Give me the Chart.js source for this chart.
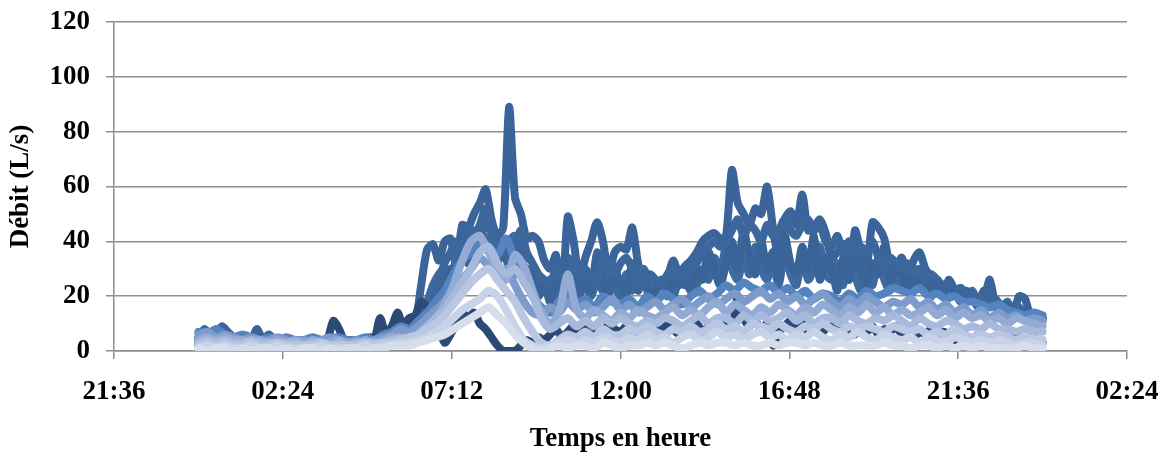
<!DOCTYPE html>
<html lang="fr">
<head>
<meta charset="utf-8">
<title>Débit</title>
<script src="https://cdn.jsdelivr.net/npm/chart.js@4.4.1/dist/chart.umd.min.js"></script>
<style>
  html, body { margin: 0; padding: 0; background: #fff; }
  #wrap { width: 1163px; height: 452px; }
</style>
</head>
<body>
<div id="wrap"><canvas id="debit" width="1163" height="452"></canvas></div>
<script>
// Axe des temps : heures depuis minuit
const X_TICKS = [-2.4, 2.4, 7.2, 12, 16.8, 21.6, 26.4];
const X_LABELS = ["21:36", "02:24", "07:12", "12:00", "16:48", "21:36", "02:24"];
const Y_TICKS = [0, 20, 40, 60, 80, 100, 120];

// series au pas de 10 min (00:00 -> 24:00)
const DARK_MAIN = [
  5, 8, 6, 6, 9, 7,
  5, 4, 4, 4, 8, 4,
  6, 4, 3, 3, 4, 3,
  3, 3, 3, 4, 4, 5,
  4, 3, 4, 3, 4, 5,
  5, 7, 6, 9, 12, 10,
  12, 11, 24, 37, 39, 33,
  40, 41, 31, 46, 45, 50,
  54, 59, 48, 42, 45, 89,
  56, 50, 41, 42, 40, 33,
  30, 35, 18, 49, 40, 26,
  34, 40, 47, 40, 28, 36,
  38, 37, 45, 32, 26, 27,
  23, 25, 27, 33, 28, 31,
  33, 36, 40, 42, 43, 41,
  42, 66, 54, 50, 46, 52,
  50, 60, 45, 34, 48, 51,
  46, 57, 44, 45, 48, 43,
  34, 36, 39, 26, 44, 36,
  31, 47, 45, 41, 31, 31,
  34, 26, 33, 36, 30, 27,
  24, 22, 23, 21, 20, 19,
  19, 16, 19, 26, 16, 14,
  15, 14, 20, 19, 12, 11,
  12
];
const DARK_SECOND = [
  4, 6, 5, 4, 6, 5,
  4, 3, 4, 3, 4, 3,
  3, 4, 3, 3, 4, 3,
  3, 3, 4, 3, 3, 4,
  3, 4, 3, 3, 4, 3,
  4, 5, 4, 6, 7, 6,
  8, 10, 14, 18, 24, 28,
  30, 26, 34, 38, 36, 44,
  40, 50, 42, 38, 34, 40,
  42, 32, 30, 28, 24, 22,
  26, 20, 24, 30, 22, 28,
  24, 20, 26, 22, 32, 24,
  20, 28, 22, 26, 30, 24,
  22, 26, 24, 20, 26, 24,
  28, 24, 30, 26, 34, 28,
  38, 30, 26, 34, 28, 38,
  30, 26, 32, 24, 36, 28,
  24, 34, 26, 30, 38, 28,
  26, 32, 24, 36, 28, 22,
  30, 24, 34, 26, 22, 28,
  24, 30, 22, 28, 24, 20,
  26, 22, 24, 20, 23, 19,
  22, 18, 20, 17, 19, 16,
  18, 14, 16, 12, 14, 12,
  11
];
const DARK_THIRD = [
  3, 4, 3, 4, 3, 4,
  3, 3, 4, 3, 3, 4,
  3, 3, 4, 3, 3, 3,
  4, 3, 3, 4, 3, 3,
  3, 4, 3, 4, 3, 3,
  4, 3, 4, 5, 4, 5,
  5, 6, 8, 12, 18, 22,
  26, 30, 28, 36, 32, 38,
  44, 40, 36, 32, 38, 30,
  28, 36, 26, 30, 20, 24,
  18, 28, 22, 34, 26, 20,
  28, 22, 36, 26, 20, 30,
  24, 20, 32, 22, 28, 18,
  22, 26, 20, 28, 24, 26,
  22, 30, 26, 36, 30, 24,
  32, 40, 30, 44, 34, 28,
  40, 30, 36, 26, 42, 32,
  28, 38, 30, 42, 26, 34,
  30, 22, 34, 26, 40, 30,
  24, 32, 28, 38, 26, 30,
  28, 22, 30, 24, 28, 20,
  24, 20, 26, 22, 18, 22,
  20, 17, 22, 16, 18, 15,
  17, 13, 15, 14, 12, 13,
  12
];
const DARK_FOURTH = [
  3, 4, 3, 3, 4, 3,
  4, 3, 3, 4, 3, 3,
  3, 3, 4, 3, 3, 4,
  3, 4, 3, 3, 3, 4,
  3, 3, 4, 3, 4, 3,
  3, 4, 4, 5, 5, 6,
  6, 8, 10, 14, 20, 26,
  32, 36, 40, 38, 44, 42,
  46, 52, 44, 40, 36, 34,
  38, 44, 36, 32, 28, 26,
  24, 30, 26, 22, 32, 28,
  30, 26, 24, 34, 30, 28,
  32, 34, 30, 26, 24, 28,
  26, 24, 28, 30, 26, 28,
  30, 32, 36, 38, 40, 38,
  40, 44, 48, 42, 46, 44,
  40, 46, 42, 44, 48, 44,
  42, 46, 48, 44, 46, 40,
  38, 42, 36, 40, 34, 38,
  36, 40, 34, 30, 34, 32,
  30, 32, 28, 30, 26, 28,
  26, 24, 25, 22, 23, 21,
  20, 18, 21, 17, 18, 16,
  16, 15, 14, 13, 14, 13,
  12
];
const NAVY = [
  2, 3, 2, 3, 2, 3,
  2, 2, 3, 2, 2, 3,
  2, 3, 2, 2, 3, 2,
  2, 3, 2, 3, 4, 11,
  8, 3, 2, 3, 2, 3,
  4, 12, 6, 9, 14, 8,
  12, 13, 18, 16, 14, 8,
  3, 6, 10, 14, 12, 14,
  10, 8, 5, 2, 0, 0,
  0, 2, 4, 3, 5, 4,
  6, 8, 5, 7, 9, 6,
  8, 6, 9, 7, 10, 8,
  7, 9, 6, 8, 10, 7,
  9, 7, 10, 8, 6, 9,
  8, 10, 7, 9, 11, 8,
  10, 8, 20, 12, 9, 11,
  8, 10, 2, 7, 9, 11,
  8, 10, 7, 9, 6, 8,
  9, 7, 10, 8, 6, 9,
  7, 9, 6, 8, 7, 9,
  6, 8, 5, 7, 6, 8,
  5, 7, 6, 4, 6, 5,
  4, 6, 5, 3, 5, 4,
  3, 5, 4, 3, 4, 3,
  3
];

// series au pas de 15 min (00:00 -> 24:00)
const MID_BLUE = [
  7, 6, 8, 6,  5, 6, 5, 4,  5, 4, 5, 4,  4, 5, 4, 4,
  5, 4, 4, 5,  4, 6, 7, 9,  8, 11, 14, 18,  22, 28, 33, 36,
  40, 38, 35, 41,  33, 27, 20, 16,  14, 18, 20, 17,  19, 16, 20, 18,
  17, 19, 16, 20,  18, 21, 19, 17,  20, 22, 19, 21,  24, 22, 25, 23,
  22, 24, 21, 23,  20, 22, 19, 21,  20, 18, 21, 19,  22, 20, 21, 23,
  22, 21, 23, 20,  21, 19, 20, 18,  18, 17, 16, 17,  15, 14, 13, 14,
  13
];
const LIGHT_1 = [
  6, 7, 5, 6,  5, 4, 5, 4,  4, 5, 4, 3,  4, 3, 4, 5,
  4, 3, 4, 3,  4, 5, 6, 8,  7, 9, 12, 15,  18, 22, 26, 30,
  34, 31, 28, 30,  24, 18, 14, 13,  16, 14, 18, 15,  17, 14, 16, 19,
  15, 17, 14, 16,  18, 15, 17, 19,  16, 18, 20, 17,  19, 21, 18, 20,
  22, 19, 21, 18,  20, 17, 19, 21,  18, 16, 19, 17,  20, 18, 16, 18,
  17, 19, 16, 18,  15, 17, 14, 16,  13, 15, 12, 14,  12, 13, 11, 12,
  11
];
const LIGHT_2 = [
  4, 5, 4, 5,  4, 4, 3, 4,  3, 4, 3, 4,  3, 4, 3, 3,
  4, 3, 3, 4,  3, 4, 5, 4,  5, 6, 8, 12,  17, 24, 33, 40,
  42, 36, 30, 26,  35, 31, 22, 14,  10, 14, 28, 15,  12, 15, 13, 11,
  14, 12, 15, 13,  12, 14, 16, 13,  15, 13, 16, 18,  14, 17, 15, 13,
  16, 14, 17, 15,  13, 16, 14, 17,  15, 13, 16, 14,  17, 14, 16, 13,
  15, 13, 14, 16,  13, 15, 12, 14,  12, 13, 11, 12,  10, 12, 11, 10,
  9
];
const LIGHT_3 = [
  3, 4, 3, 4,  3, 3, 4, 3,  3, 2, 3, 3,  2, 3, 3, 2,
  3, 2, 3, 3,  3, 3, 4, 5,  4, 6, 9, 12,  15, 20, 25, 30,
  36, 38, 32, 28,  30, 25, 20, 12,  8, 10, 12, 9,  11, 9, 12, 10,
  12, 10, 9, 11,  10, 12, 11, 9,  11, 13, 10, 12,  12, 10, 13, 11,
  13, 11, 12, 14,  11, 13, 10, 12,  12, 10, 13, 11,  10, 12, 11, 13,
  11, 9, 12, 10,  9, 11, 10, 8,  9, 8, 10, 8,  8, 7, 8, 7,
  7
];
const LIGHT_4 = [
  2, 3, 2, 3,  2, 2, 3, 2,  2, 3, 2, 2,  2, 2, 3, 2,
  2, 2, 2, 3,  2, 3, 3, 4,  5, 6, 8, 10,  13, 17, 21, 25,
  28, 30, 26, 22,  18, 12, 7, 3,  2, 4, 6, 5,  7, 5, 8, 6,
  6, 8, 7, 9,  7, 6, 8, 7,  9, 7, 8, 10,  8, 9, 7, 10,
  9, 8, 10, 8,  7, 9, 8, 10,  8, 7, 9, 8,  9, 8, 7, 9,
  8, 7, 8, 6,  7, 6, 8, 6,  5, 6, 5, 6,  5, 4, 5, 4,
  4
];
const LIGHT_5 = [
  1, 2, 1, 2,  1, 1, 2, 1,  1, 2, 1, 1,  1, 1, 2, 1,
  1, 1, 1, 2,  1, 2, 2, 3,  3, 4, 5, 7,  9, 12, 15, 17,
  19, 22, 20, 15,  9, 4, 2, 1,  2, 3, 4, 3,  4, 3, 5, 4,
  3, 5, 4, 6,  4, 5, 3, 5,  6, 4, 5, 7,  5, 6, 4, 6,
  7, 5, 6, 4,  6, 5, 7, 5,  4, 6, 5, 7,  5, 4, 6, 5,
  4, 5, 3, 5,  4, 3, 5, 4,  3, 4, 3, 4,  3, 2, 3, 3,
  2
];
const LIGHT_6 = [
  1, 0, 1, 1,  0, 1, 0, 1,  1, 0, 1, 0,  1, 1, 0, 1,
  0, 1, 1, 0,  1, 1, 2, 2,  2, 3, 4, 5,  6, 8, 10, 12,
  14, 16, 13, 10,  6, 3, 1, 0,  1, 2, 1, 2,  2, 1, 3, 2,
  1, 2, 2, 3,  2, 3, 2, 1,  2, 3, 2, 3,  3, 2, 3, 2,
  2, 3, 2, 3,  3, 2, 3, 2,  2, 3, 2, 2,  2, 2, 3, 2,
  2, 1, 2, 2,  1, 2, 1, 2,  1, 2, 1, 1,  1, 1, 2, 1,
  1
];

// le premier jeu est dessine au-dessus des autres
const SERIES = [
  { values: LIGHT_6, step: 15, color: "#D6DEEC" },
  { values: LIGHT_5, step: 15, color: "#C8D3E8" },
  { values: LIGHT_4, step: 15, color: "#B9C7E2" },
  { values: LIGHT_3, step: 15, color: "#A8BADC" },
  { values: LIGHT_2, step: 15, color: "#93AAD4" },
  { values: LIGHT_1, step: 15, color: "#7C9BCB" },
  { values: MID_BLUE, step: 15, color: "#5483BF" },
  { values: NAVY, step: 10, color: "#2B4A75" },
  { values: DARK_FOURTH, step: 10, color: "#3C679C" },
  { values: DARK_THIRD, step: 10, color: "#3A6498" },
  { values: DARK_SECOND, step: 10, color: "#3D6A9F" },
  { values: DARK_MAIN, step: 10, color: "#3B659A" },
];

const FONT = { family: "'Liberation Serif', 'Times New Roman', serif", size: 27, weight: "bold" };
const GRID = "#8E8E8E";

const datasets = SERIES.map((s) => ({
  data: s.values.map((v, i) => ({ x: (i * s.step) / 60, y: v })),
  borderColor: s.color,
  backgroundColor: s.color,
  borderWidth: 8,
  borderJoinStyle: "round",
  borderCapStyle: "round",
  pointRadius: 0,
  tension: 0.25,
  fill: false,
}));

new Chart(document.getElementById("debit"), {
  type: "line",
  data: { datasets },
  options: {
    responsive: false,
    animation: false,
    layout: { padding: { top: 22, right: 36, bottom: 0, left: 0 } },
    plugins: { legend: { display: false }, tooltip: { enabled: false } },
    scales: {
      x: {
        type: "linear",
        min: X_TICKS[0],
        max: X_TICKS[X_TICKS.length - 1],
        afterBuildTicks: (scale) => { scale.ticks = X_TICKS.map((v) => ({ value: v })); },
        afterFit: (scale) => {
          scale.height = 101;
          scale.paddingLeft = 0;
          scale.paddingRight = 0;
        },
        ticks: {
          autoSkip: false,
          maxRotation: 0,
          padding: 17,
          color: "#000",
          font: FONT,
          callback: (v, i) => X_LABELS[i],
        },
        grid: { display: true, drawOnChartArea: false, drawTicks: true, tickLength: 8, color: GRID, lineWidth: 1.5 },
        border: { display: true, color: GRID, width: 1.5 },
        title: { display: true, text: "Temps en heure", color: "#000", font: FONT, padding: { top: 0, bottom: -3 } },
      },
      y: {
        min: 0,
        max: 120,
        afterBuildTicks: (scale) => { scale.ticks = Y_TICKS.map((v) => ({ value: v })); },
        afterFit: (scale) => {
          scale.width = 114;
          scale.paddingTop = 0;
          scale.paddingBottom = 0;
        },
        ticks: { padding: 16, color: "#000", font: FONT },
        grid: { color: GRID, lineWidth: 1.5, tickLength: 8 },
        border: { display: true, color: GRID, width: 1.5 },
        title: { display: true, text: "Débit (L/s)", color: "#000", font: FONT, padding: { top: 5, bottom: 0 } },
      },
    },
  },
});
</script>
</body>
</html>
